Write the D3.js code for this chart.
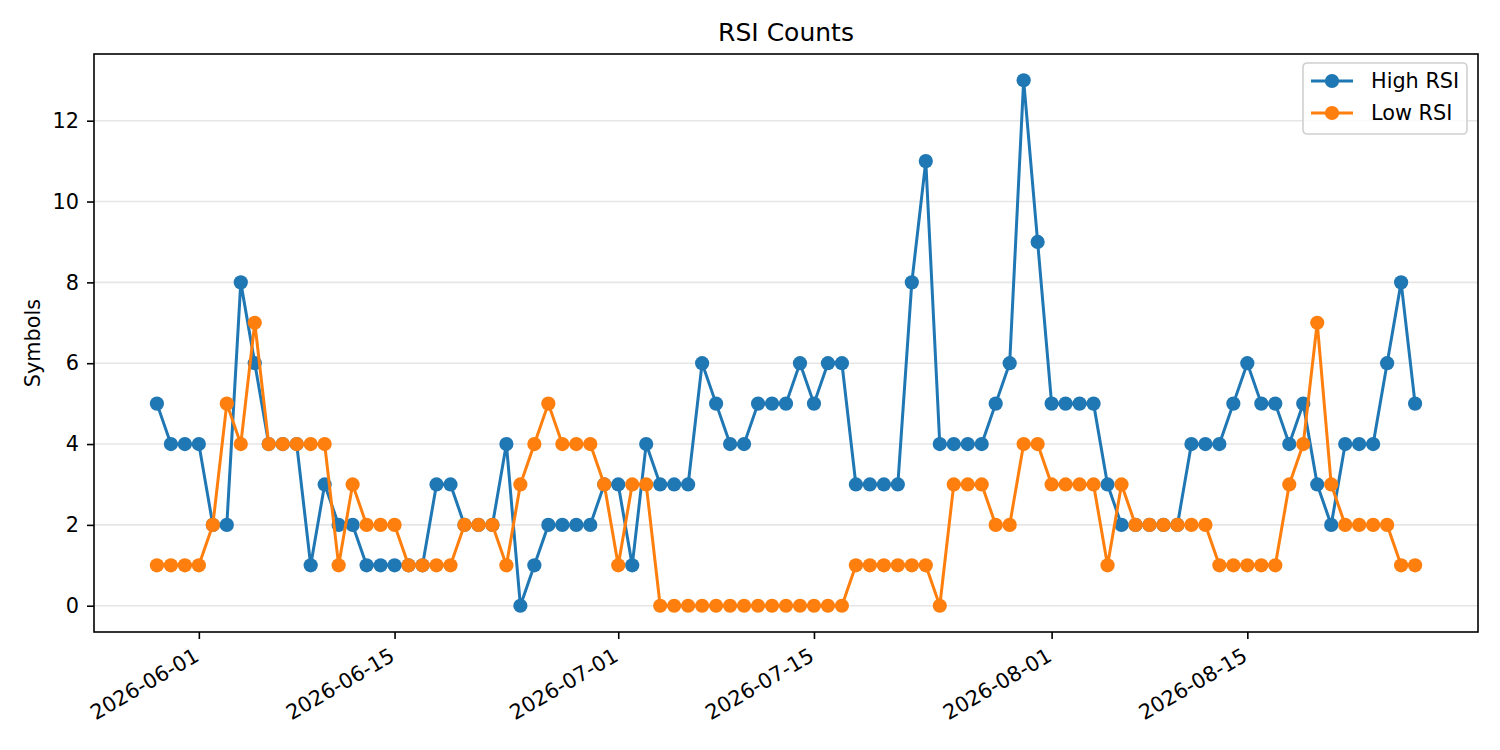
<!DOCTYPE html>
<html lang="en">
  <head>
    <meta charset="utf-8" />
    <script src="https://cdn.jsdelivr.net/npm/d3@7/dist/d3.min.js"></script>
    <title>RSI Counts</title>
    <style>
      body { margin: 0; background: #fff; }
      text { font-family: "DejaVu Sans", sans-serif; fill: #000; }
      .grid line { stroke: #e6e6e6; stroke-width: 1.6; }
    </style>
  </head>
  <body>
    <div id="container"></div>

    <script>
      // one value per day, 2026-05-29 .. 2026-08-27
      const startDate = "2026-05-29";
      const endDate = "2026-08-27";

      const highRsi = [
        5, 4, 4, 4, 2, 2, 8, 6, 4, 4,
        4, 1, 3, 2, 2, 1, 1, 1, 1, 1,
        3, 3, 2, 2, 2, 4, 0, 1, 2, 2,
        2, 2, 3, 3, 1, 4, 3, 3, 3, 6,
        5, 4, 4, 5, 5, 5, 6, 5, 6, 6,
        3, 3, 3, 3, 8, 11, 4, 4, 4, 4,
        5, 6, 13, 9, 5, 5, 5, 5, 3, 2,
        2, 2, 2, 2, 4, 4, 4, 5, 6, 5,
        5, 4, 5, 3, 2, 4, 4, 4, 6, 8, 5
      ];
      const lowRsi = [
        1, 1, 1, 1, 2, 5, 4, 7, 4, 4,
        4, 4, 4, 1, 3, 2, 2, 2, 1, 1,
        1, 1, 2, 2, 2, 1, 3, 4, 5, 4,
        4, 4, 3, 1, 3, 3, 0, 0, 0, 0,
        0, 0, 0, 0, 0, 0, 0, 0, 0, 0,
        1, 1, 1, 1, 1, 1, 0, 3, 3, 3,
        2, 2, 4, 4, 3, 3, 3, 3, 1, 3,
        2, 2, 2, 2, 2, 2, 1, 1, 1, 1,
        1, 3, 4, 7, 3, 2, 2, 2, 2, 1, 1
      ];

      const xTickLabels = ["2026-06-01", "2026-06-15", "2026-07-01", "2026-07-15", "2026-08-01", "2026-08-15"];
      const yTicks = [0, 2, 4, 6, 8, 10, 12];

      const seriesNames = ["High RSI", "Low RSI"];
      const colors = ["#1f77b4", "#ff7f0e"];

      const width = 1500;
      const height = 750;
      const margin = { top: 54, right: 22, bottom: 118, left: 94 };

      const parse = d3.utcParse("%Y-%m-%d");
      const dates = d3.utcDay.range(parse(startDate), d3.utcDay.offset(parse(endDate), 1));

      const svg = d3.select("#container").append("svg").attr("width", width).attr("height", height);

      // matplotlib style 5% padding
      const d0 = dates[0], d1 = dates[dates.length - 1];
      const pad = (d1 - d0) * 0.05;
      const x = d3
        .scaleUtc()
        .domain([new Date(+d0 - pad), new Date(+d1 + pad)])
        .range([margin.left, width - margin.right]);

      const yMax = d3.max(highRsi.concat(lowRsi));
      const yPad = yMax * 0.05;
      const y = d3
        .scaleLinear()
        .domain([-yPad, yMax + yPad])
        .range([height - margin.bottom, margin.top]);

      // grid
      svg
        .append("g")
        .attr("class", "grid")
        .selectAll("line")
        .data(yTicks)
        .join("line")
        .attr("x1", margin.left)
        .attr("x2", width - margin.right)
        .attr("y1", (d) => y(d))
        .attr("y2", (d) => y(d));

      const series = [highRsi, lowRsi];
      const line = d3
        .line()
        .x((d, i) => x(dates[i]))
        .y((d) => y(d));

      series.forEach((vals, k) => {
        const g = svg.append("g");
        g.append("path")
          .datum(vals)
          .attr("fill", "none")
          .attr("stroke", colors[k])
          .attr("stroke-width", 3)
          .attr("stroke-linejoin", "round")
          .attr("d", line);
        g.selectAll("circle")
          .data(vals)
          .join("circle")
          .attr("cx", (d, i) => x(dates[i]))
          .attr("cy", (d) => y(d))
          .attr("r", 7.1)
          .attr("fill", colors[k]);
      });

      // axes
      const xAxis = svg
        .append("g")
        .attr("transform", `translate(0,${height - margin.bottom})`)
        .call(
          d3
            .axisBottom(x)
            .tickValues(xTickLabels.map(parse))
            .tickFormat(d3.utcFormat("%Y-%m-%d"))
            .tickSize(7)
            .tickPadding(0)
        );
      xAxis.select(".domain").remove();
      xAxis.selectAll(".tick line").attr("stroke", "#000").attr("stroke-width", 1.6);
      xAxis
        .selectAll(".tick text")
        .attr("font-size", 20.8)
        .attr("text-anchor", "end")
        .attr("dy", 0)
        .attr("y", 0)
        .attr("transform", "translate(1,28) rotate(-30)");

      const yAxis = svg
        .append("g")
        .attr("transform", `translate(${margin.left},0)`)
        .call(d3.axisLeft(y).tickValues(yTicks).tickSize(7).tickPadding(8));
      yAxis.select(".domain").remove();
      yAxis.selectAll(".tick line").attr("stroke", "#000").attr("stroke-width", 1.6);
      yAxis.selectAll(".tick text").attr("font-size", 20.8);

      // frame
      svg
        .append("rect")
        .attr("x", margin.left)
        .attr("y", margin.top)
        .attr("width", width - margin.left - margin.right)
        .attr("height", height - margin.top - margin.bottom)
        .attr("fill", "none")
        .attr("stroke", "#000")
        .attr("stroke-width", 1.6);

      svg
        .append("text")
        .attr("x", (margin.left + width - margin.right) / 2)
        .attr("y", 41)
        .attr("text-anchor", "middle")
        .attr("font-size", 25)
        .text("RSI Counts");

      svg
        .append("text")
        .attr("transform", `translate(40,${(margin.top + height - margin.bottom) / 2}) rotate(-90)`)
        .attr("text-anchor", "middle")
        .attr("font-size", 20.8)
        .text("Symbols");

      // legend
      const lg = svg.append("g").attr("transform", "translate(1303,63)");
      lg.append("rect")
        .attr("width", 164)
        .attr("height", 71)
        .attr("rx", 4)
        .attr("fill", "#fff")
        .attr("fill-opacity", 0.8)
        .attr("stroke", "#d0d0d0")
        .attr("stroke-width", 1.6);
      seriesNames.forEach((name, k) => {
        const row = lg.append("g").attr("transform", `translate(0,${18 + k * 32})`);
        row.append("line").attr("x1", 8).attr("x2", 50).attr("stroke", colors[k]).attr("stroke-width", 3);
        row.append("circle").attr("cx", 29).attr("r", 7.1).attr("fill", colors[k]);
        row.append("text").attr("x", 68).attr("y", 7).attr("font-size", 20.8).text(name);
      });
    </script>
  </body>
</html>
